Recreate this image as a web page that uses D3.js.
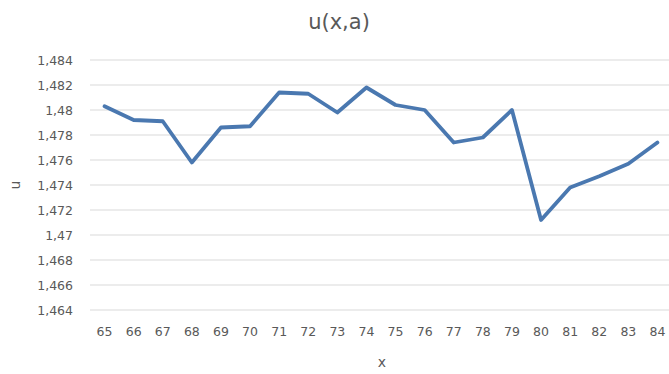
<!DOCTYPE html>
<html>
<head>
<meta charset="utf-8">
<script src="https://cdn.jsdelivr.net/npm/d3@7"></script>
<style>
  html, body { margin: 0; padding: 0; background: #fff; }
  svg { display: block; }
</style>
</head>
<body>
<svg id="chart" width="669" height="374"></svg>
<script>
// u(x,a) sampled at integer x
const categories = ["65","66","67","68","69","70","71","72","73","74","75","76","77","78","79","80","81","82","83","84"];
const uValues = [1.4803, 1.4792, 1.4791, 1.4758, 1.4786, 1.4787, 1.4814, 1.4813, 1.4798, 1.4818,
                 1.4804, 1.4800, 1.4774, 1.4778, 1.4800, 1.4712, 1.4738, 1.4747, 1.4757, 1.4774];
const yTicks = [1.464, 1.466, 1.468, 1.47, 1.472, 1.474, 1.476, 1.478, 1.48, 1.482, 1.484];

const W = 669, H = 374;
const margin = { top: 60, right: -3, bottom: 64, left: 90 };
const svg = d3.select("#chart");
const font = "'DejaVu Sans', Verdana, sans-serif";
const textColor = "#595959";

const x = d3.scaleBand().domain(categories).range([margin.left, W - margin.right]);
const y = d3.scaleLinear().domain([1.464, 1.484]).range([H - margin.bottom, margin.top]);

const fmt = v => d3.format(".3~f")(v).replace(".", ",");

// Horizontal gridlines
svg.append("g")
  .selectAll("line")
  .data(yTicks)
  .join("line")
  .attr("x1", margin.left)
  .attr("x2", W)
  .attr("y1", d => y(d))
  .attr("y2", d => y(d))
  .attr("stroke", "#d9d9d9")
  .attr("stroke-width", 1);

// Y axis labels
const yAxis = svg.append("g")
  .attr("transform", `translate(${margin.left - 17},0)`)
  .call(d3.axisLeft(y).tickValues(yTicks).tickFormat(fmt).tickSize(0).tickPadding(0));
yAxis.select(".domain").remove();
yAxis.selectAll("text")
  .attr("fill", textColor)
  .style("font-family", font)
  .style("font-size", "12.5px");

// X axis labels
const xAxis = svg.append("g")
  .attr("transform", `translate(0,${H - margin.bottom + 17})`)
  .call(d3.axisBottom(x).tickSize(0).tickPadding(0));
xAxis.select(".domain").remove();
xAxis.selectAll("text")
  .attr("fill", textColor)
  .attr("dy", "0.71em")
  .style("font-family", font)
  .style("font-size", "12.5px");

// Series line
const line = d3.line()
  .x((d, i) => x(categories[i]) + x.bandwidth() / 2)
  .y(d => y(d));

svg.append("path")
  .datum(uValues)
  .attr("d", line)
  .attr("fill", "none")
  .attr("stroke", "#4a78b0")
  .attr("stroke-width", 3.8)
  .attr("stroke-linejoin", "round")
  .attr("stroke-linecap", "round");

// Title
svg.append("text")
  .attr("x", 339)
  .attr("y", 29)
  .attr("text-anchor", "middle")
  .attr("fill", textColor)
  .style("font-family", font)
  .style("font-size", "21px")
  .text("u(x,a)");

// Axis titles
svg.append("text")
  .attr("x", 382)
  .attr("y", 367)
  .attr("text-anchor", "middle")
  .attr("fill", textColor)
  .style("font-family", font)
  .style("font-size", "14px")
  .text("x");

svg.append("text")
  .attr("transform", `translate(20,${y(1.474)}) rotate(-90)`)
  .attr("text-anchor", "middle")
  .attr("fill", textColor)
  .style("font-family", font)
  .style("font-size", "14px")
  .text("u");
</script>
</body>
</html>
